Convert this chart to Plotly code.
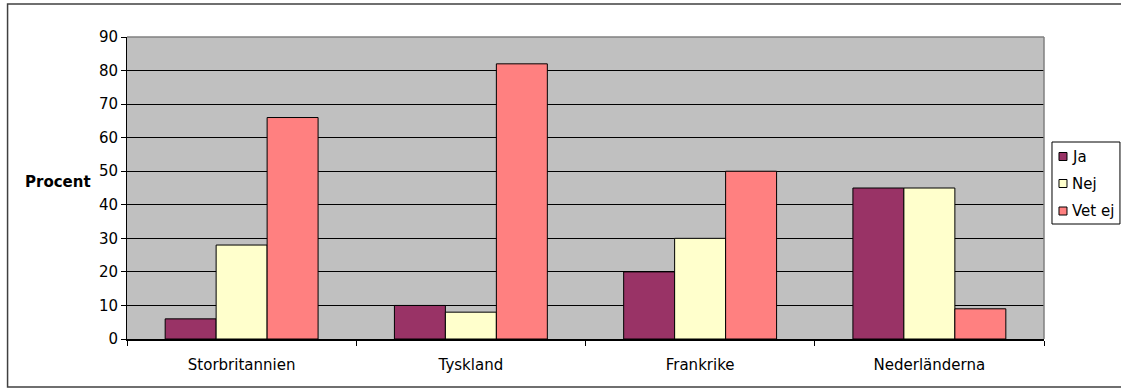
import plotly.graph_objects as go

categories = ["Storbritannien", "Tyskland", "Frankrike", "Nederländerna"]
ja = [6, 10, 20, 45]
nej = [28, 8, 30, 45]
vet_ej = [66, 82, 50, 9]
series_names = ["Ja", "Nej", "Vet ej"]
colors = ["#993366", "#FFFFCC", "#FF8080"]
yticks = [0, 10, 20, 30, 40, 50, 60, 70, 80, 90]

FONT = "DejaVu Sans, Verdana, sans-serif"
FS = 15

fig = go.Figure()
for name, vals, col in zip(series_names, [ja, nej, vet_ej], colors):
    fig.add_trace(go.Bar(
        x=categories, y=vals, name=name,
        marker=dict(color=col, line=dict(color="black", width=1)),
    ))

L, R, T, B = 126.5, 1044, 37, 339
W, H = 1121, 389
pw, ph = R - L, B - T


def px(xp):
    return (xp - L) / pw


def py(yp):
    return (B - yp) / ph


fig.update_layout(
    width=W, height=H,
    margin=dict(l=L, r=W - R, t=T, b=H - B, autoexpand=False),
    barmode="group", bargap=0.333, bargroupgap=0,
    plot_bgcolor="#C0C0C0", paper_bgcolor="white",
    font=dict(family=FONT, size=FS, color="black"),
    showlegend=False,
)
fig.update_yaxes(
    range=[0, 90], tickvals=yticks, ticks="outside", ticklen=5, tickcolor="black",
    showgrid=True, gridcolor="black", gridwidth=1,
    showline=True, linecolor="black", linewidth=1, zeroline=False,
    tickfont=dict(family=FONT, size=FS),
)
fig.update_xaxes(
    ticks="outside", ticklen=5, tickcolor="black", tickson="boundaries",
    showline=True, linecolor="black", linewidth=1.5,
    tickfont=dict(family=FONT, size=FS), ticklabelstandoff=11,
)
# plot area border (top/right gray)
fig.add_shape(type="line", xref="paper", yref="paper", x0=0, x1=1, y0=1, y1=1,
              line=dict(color="#808080", width=1.5), layer="above")
fig.add_shape(type="line", xref="paper", yref="paper", x0=1, x1=1, y0=0, y1=1,
              line=dict(color="#808080", width=1.5), layer="above")
# outer frame
fig.add_shape(type="rect", xref="paper", yref="paper",
              x0=px(7), x1=px(1130), y0=py(387), y1=py(4),
              line=dict(color="#404040", width=1.5), fillcolor="rgba(0,0,0,0)")
# y-axis title
fig.add_annotation(text="<b>Procent</b>", xref="paper", yref="paper",
                   x=px(57), y=py(182), xanchor="center", yanchor="middle",
                   showarrow=False, font=dict(family=FONT, size=FS))

# legend box
fig.add_shape(type="rect", xref="paper", yref="paper",
              x0=px(1052), x1=px(1120), y0=py(224), y1=py(142),
              line=dict(color="black", width=1), fillcolor="white")
leg_y = [156.5, 183.5, 211]
for name, col, yc in zip(series_names, colors, leg_y):
    fig.add_shape(type="rect", xref="paper", yref="paper",
                  x0=px(1059), x1=px(1067), y0=py(yc + 4), y1=py(yc - 4),
                  line=dict(color="black", width=1), fillcolor=col)
    fig.add_annotation(text=name, xref="paper", yref="paper",
                       x=px(1070), y=py(yc), xanchor="left", yanchor="middle",
                       showarrow=False, font=dict(family=FONT, size=FS))

fig.write_html("out.html")
